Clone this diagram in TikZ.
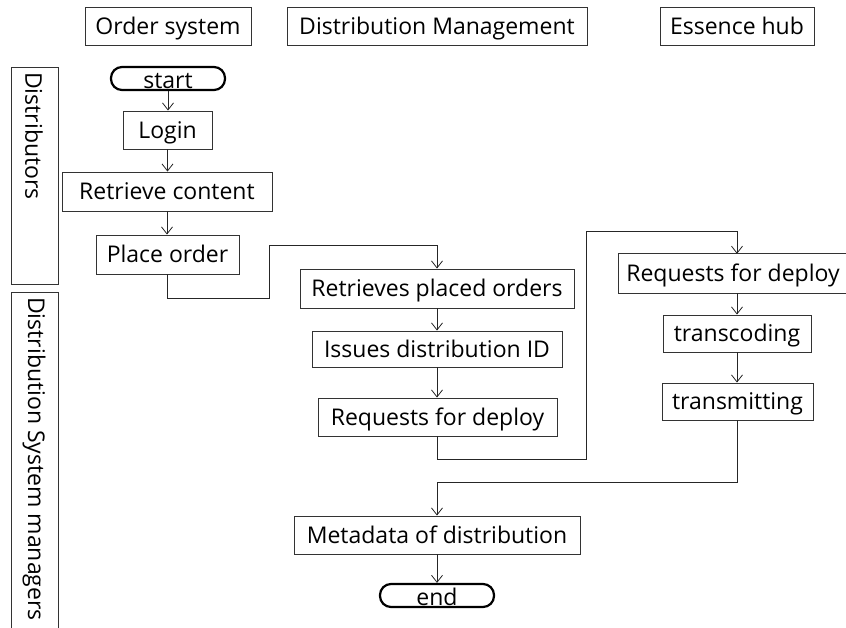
\documentclass[tikz,border=0pt]{standalone}
\usepackage{fontspec}
\setmainfont{Open Sans}
\usetikzlibrary{arrows.meta}
\begin{document}
\begin{tikzpicture}[x=1pt,y=-1pt,
  txt/.style={font=\fontsize{23}{27}\selectfont, text height=16.4pt, text depth=0pt},
  box/.style={txt, draw=black!80, line width=0.9pt, inner sep=0pt},
  term/.style={txt, draw=black, line width=2.2pt, rounded corners=11pt, inner sep=0pt},
  flow/.style={draw=black!85, line width=0.9pt, -{Straight Barb[length=7pt,width=11pt,line width=0.8pt]}},
  edge/.style={draw=black!80, line width=0.9pt},
  lanetxt/.style={font=\fontsize{23}{27}\selectfont, rotate=-90, anchor=west, inner sep=0pt}
]
\useasboundingbox (0,0) rectangle (846,628);

% column headers
\node[box, minimum width=166pt, minimum height=38pt] (hdr1) at (168,26) {Order system};
\node[box, minimum width=300pt, minimum height=38pt] (hdr2) at (437,26) {Distribution Management};
\node[box, minimum width=154pt, minimum height=38pt] (hdr3) at (737,26) {Essence hub};

% swimlane labels
\node[edge, draw, minimum width=47pt, minimum height=217pt, inner sep=0pt] (lane1) at (34.5,175.5) {};
\node[lanetxt] (lane1txt) at (34,72) {Distributors};
\coordinate (l2a) at (11,628);
\coordinate (l2b) at (11,292);
\coordinate (l2c) at (58,292);
\coordinate (l2d) at (58,628);
\draw[edge] (l2a) -- (l2b) -- (l2c) -- (l2d);
\node[lanetxt] (lane2txt) at (34,297) {Distribution System managers};

% order system column
\node[term, minimum width=114pt, minimum height=23pt] (start) at (168,78.5) {\raisebox{-2pt}{start}};
\node[box, minimum width=89pt, minimum height=38pt] (login) at (167.5,130) {Login};
\node[box, minimum width=210pt, minimum height=39pt] (retr) at (167,191.5) {Retrieve content};
\node[box, minimum width=143pt, minimum height=39pt] (place) at (167.5,254.5) {Place order};

% distribution management column
\node[box, minimum width=274pt, minimum height=39pt] (rpo) at (437,288.5) {Retrieves placed orders};
\node[box, minimum width=250pt, minimum height=36pt] (idn) at (437,349) {Issues distribution ID};
\node[box, minimum width=239pt, minimum height=38pt] (rfd1) at (437.5,417) {Requests for deploy};

% essence hub column (box runs off the right edge)
\node[txt, minimum width=228pt, minimum height=39pt, inner sep=0pt] (rfd2) at (733,273.5) {Requests for deploy};
\draw[edge] (rfd2.north east) -- (rfd2.north west) -- (rfd2.south west) -- (rfd2.south east);
\node[box, minimum width=148pt, minimum height=37pt] (trc) at (737,333.5) {transcoding};
\node[box, minimum width=151pt, minimum height=37pt] (trm) at (737.5,401.5) {transmitting};

% closing steps
\node[box, minimum width=286pt, minimum height=38pt] (meta) at (437,535) {Metadata of distribution};
\node[term, minimum width=114pt, minimum height=23pt] (end) at (437,595.5) {\raisebox{-2pt}{end}};

% connectors
\coordinate (j1) at (269,298);
\coordinate (j2) at (269,245);
\coordinate (k1) at (586,459);
\coordinate (k2) at (586,231);
\coordinate (k3) at (737,231);
\coordinate (m1) at (737,482);

\draw[flow] (start.south) -- (start.south |- login.north);
\draw[flow] (login.south) -- (login.south |- retr.north);
\draw[flow] (retr.south) -- (retr.south |- place.north);
\draw[flow] (place.south) |- (j1) -- (j2) -| (rpo.north);
\draw[flow] (rpo.south) -- (idn.north);
\draw[flow] (idn.south) -- (idn.south |- rfd1.north);
\draw[flow] (rfd1.south) |- (k1) -- (k2) -- (k3) -- (k3 |- rfd2.north);
\draw[flow] (k3 |- rfd2.south) -- (trc.north);
\draw[flow] (trc.south) -- (trc.south |- trm.north);
\draw[flow] (trm.south) -- (trm.south |- m1) -| (meta.north);
\draw[flow] (meta.south) -- (end.north);
\end{tikzpicture}
\end{document}
